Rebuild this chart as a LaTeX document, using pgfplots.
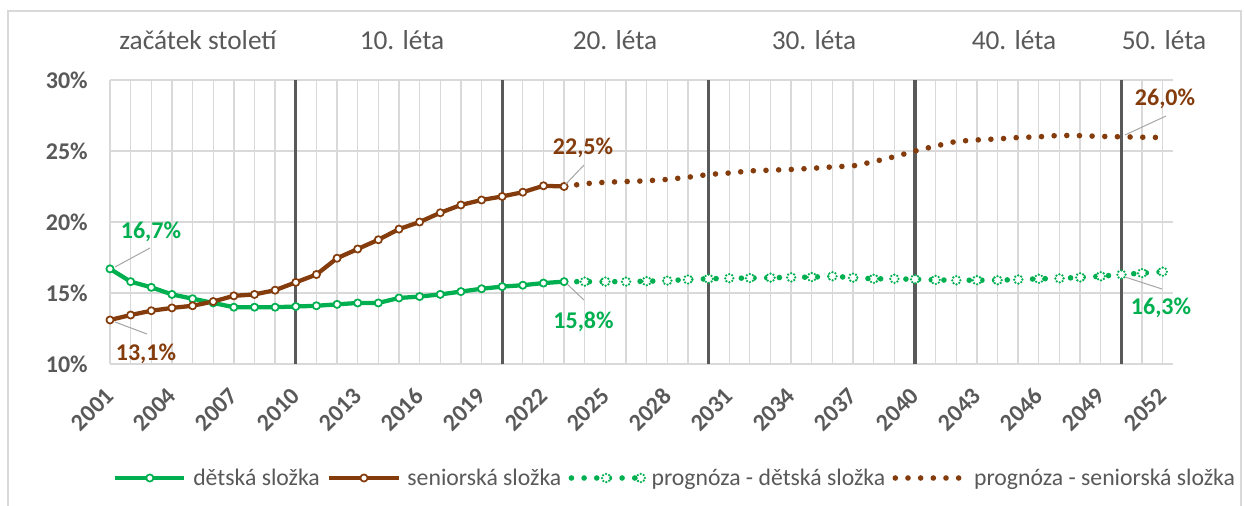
\documentclass[border=0pt]{standalone}
\usepackage{fontspec}
\setmainfont{Carlito}
\usepackage{pgfplots}
\pgfplotsset{compat=1.18}
\definecolor{cgreen}{HTML}{00B050}
\definecolor{cbrown}{HTML}{843C0C}
\definecolor{cgray}{HTML}{595959}
\definecolor{cgrid}{HTML}{D9D9D9}
\definecolor{clead}{HTML}{A6A6A6}
\pgfplotsset{
  solidleg/.style={legend image code/.code={\draw[mark repeat=2,mark phase=2,##1] plot coordinates {(0pt,0pt) (26pt,0pt) (52pt,0pt)};}},
  dotleg/.style={legend image code/.code={\draw[##1] (0pt,0pt) -- (52pt,0pt);}},
}
\begin{document}
\begin{tikzpicture}[x=0.75pt,y=-0.75pt]
\path[use as bounding box] (0,0) rectangle (1244,506);
\fill[white] (0,0) rectangle (1244,506);
\draw[cgrid, line width=1.5pt] (8,11) rectangle (1241,530);
\begin{axis}[
  at={(82.5pt,-273pt)}, anchor=south west, scale only axis,
  width=797.25pt, height=213pt,
  xmin=2001, xmax=2052.5, ymin=10, ymax=30,
  clip=false,
  axis line style={draw=none},
  xtick={2001,2004,...,2052},
  xticklabels={2001,2004,2007,2010,2013,2016,2019,2022,2025,2028,2031,2034,2037,2040,2043,2046,2049,2052},
  minor xtick={2001,...,2052},
  ytick={10,15,20,25,30},
  yticklabels={10\%,15\%,20\%,25\%,30\%},
  major tick length=0pt, minor tick length=0pt,
  grid=both,
  major grid style={cgrid, line width=1pt},
  minor grid style={cgrid, line width=1pt},
  xticklabel style={rotate=45, anchor=east, inner sep=0pt, text=cgray, font=\fontsize{18}{20}\selectfont\bfseries},
  xticklabel shift=21pt,
  yticklabel style={anchor=east, inner sep=0pt, text=cgray, font=\fontsize{18}{20}\selectfont\bfseries},
  yticklabel shift=16.5pt,
  legend columns=4,
  legend style={at={(0.5306,-0.4014)}, anchor=center, draw=none, fill=none,
    font=\fontsize{17.8}{21}\selectfont, text=cgray,
    nodes={inner sep=0pt},
    /tikz/every odd column/.append style={column sep=5pt},
    /tikz/every even column/.append style={column sep=5.5pt}},
]
\draw[cgray, line width=2.4pt] (axis cs:2010,10) -- (axis cs:2010,30);
\draw[cgray, line width=2.4pt] (axis cs:2020,10) -- (axis cs:2020,30);
\draw[cgray, line width=2.4pt] (axis cs:2030,10) -- (axis cs:2030,30);
\draw[cgray, line width=2.4pt] (axis cs:2040,10) -- (axis cs:2040,30);
\draw[cgray, line width=2.4pt] (axis cs:2050,10) -- (axis cs:2050,30);

\addplot[cgreen, line width=3.2pt, line join=round, mark=*, mark size=2.7pt,
  mark options={fill=white, draw=cgreen, line width=1.3pt}, solidleg]
coordinates {
(2001,16.7) (2002,15.8) (2003,15.4) (2004,14.9) (2005,14.6) (2006,14.3)
(2007,14.0) (2008,14.0) (2009,14.0) (2010,14.05) (2011,14.1) (2012,14.2)
(2013,14.3) (2014,14.3) (2015,14.65) (2016,14.75) (2017,14.9) (2018,15.1)
(2019,15.3) (2020,15.45) (2021,15.55) (2022,15.7) (2023,15.8)};
\addlegendentry{dětská složka}

\addplot[cbrown, line width=3.2pt, line join=round, mark=*, mark size=2.7pt,
  mark options={fill=white, draw=cbrown, line width=1.3pt}, solidleg]
coordinates {
(2001,13.1) (2002,13.45) (2003,13.75) (2004,13.95) (2005,14.1) (2006,14.4)
(2007,14.8) (2008,14.9) (2009,15.2) (2010,15.75) (2011,16.3) (2012,17.45)
(2013,18.1) (2014,18.75) (2015,19.5) (2016,20.0) (2017,20.65) (2018,21.2)
(2019,21.55) (2020,21.8) (2021,22.1) (2022,22.55) (2023,22.5)};
\addlegendentry{seniorská složka}

\addplot[cgreen, line width=4.2pt, line cap=round, dash pattern=on 0pt off 9.5pt,
  mark=*, mark size=3.1pt, mark indices={2,...,30},
  mark options={fill=white, draw=cgreen, line width=1.9pt, line cap=round, dash pattern=on 0pt off 2.4pt},
  solidleg]
coordinates {
(2023,15.8) (2024,15.8) (2025,15.8) (2026,15.8) (2027,15.83) (2028,15.87)
(2029,15.95) (2030,16.0) (2031,16.04) (2032,16.05) (2033,16.08) (2034,16.1)
(2035,16.12) (2036,16.18) (2037,16.08) (2038,16.0) (2039,16.0) (2040,15.97)
(2041,15.92) (2042,15.9) (2043,15.9) (2044,15.9) (2045,15.95) (2046,16.0)
(2047,16.03) (2048,16.1) (2049,16.18) (2050,16.3) (2051,16.4) (2052,16.5)};
\addlegendentry{prognóza - dětská složka}

\addplot[cbrown, line width=4.2pt, line cap=round, dash pattern=on 0pt off 9.5pt, mark=none, dotleg]
coordinates {
(2023,22.5) (2024,22.7) (2025,22.8) (2026,22.85) (2027,22.9) (2028,23.0)
(2029,23.15) (2030,23.35) (2031,23.45) (2032,23.6) (2033,23.65) (2034,23.7)
(2035,23.78) (2036,23.88) (2037,23.95) (2038,24.25) (2039,24.6) (2040,25.0)
(2041,25.35) (2042,25.68) (2043,25.78) (2044,25.85) (2045,25.95) (2046,26.0)
(2047,26.1) (2048,26.08) (2049,26.03) (2050,26.0) (2051,25.97) (2052,25.95)};
\addlegendentry{prognóza - seniorská složka}
\end{axis}

% decade labels
\begin{scope}[every node/.style={text=cgray, font=\fontsize{20.5}{24}\selectfont, inner sep=0pt}]
\node at (198,40) {začátek století};
\node at (402,40) {10. léta};
\node at (615,40) {20. léta};
\node at (814,40) {30. léta};
\node at (1014,40) {40. léta};
\node at (1164,40) {50. léta};
\end{scope}

% data labels
\begin{scope}[every node/.style={font=\fontsize{18}{20}\selectfont\bfseries, inner sep=0pt}]
\draw[clead, line width=0.75pt] (115,267) -- (150,248);
\node[text=cgreen] at (151,232) {16,7\%};
\draw[clead, line width=0.75pt] (115,322) -- (147,334);
\node[text=cbrown] at (146,354) {13,1\%};
\draw[clead, line width=0.75pt] (565,185) -- (584,165);
\node[text=cbrown] at (583,148) {22,5\%};
\draw[clead, line width=0.75pt] (567,284) -- (584,300);
\node[text=cgreen] at (583.5,322) {15,8\%};
\draw[clead, line width=0.75pt] (1125,135) -- (1166,116);
\node[text=cbrown] at (1165,99) {26,0\%};
\draw[clead, line width=0.75pt] (1125,277) -- (1162,289);
\node[text=cgreen] at (1161,308) {16,3\%};
\end{scope}
\end{tikzpicture}
\end{document}
